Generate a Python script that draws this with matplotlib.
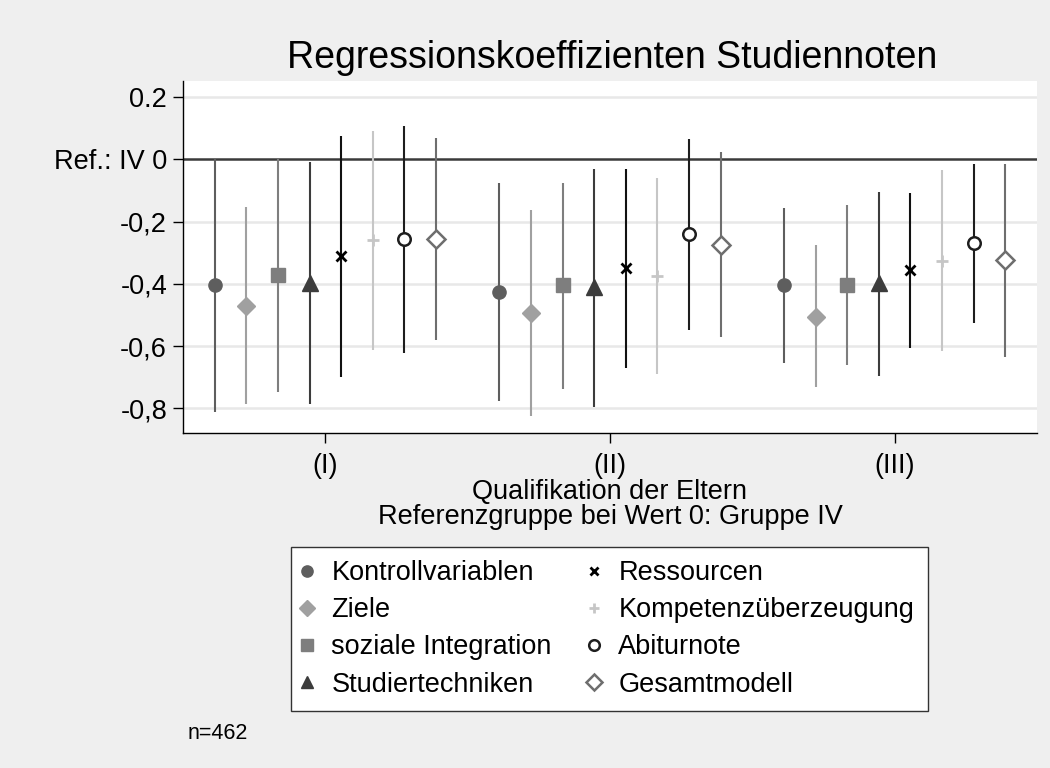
import numpy as np
import matplotlib.pyplot as plt
from matplotlib.lines import Line2D

plt.rcParams['font.family'] = ['Liberation Sans', 'DejaVu Sans']

groups = ["(I)", "(II)", "(III)"]
models = ["Kontrollvariablen", "Ziele", "soziale Integration", "Studiertechniken",
          "Ressourcen", "Kompetenzüberzeugung", "Abiturnote", "Gesamtmodell"]

# point estimates per model, one value per parent group (I, II, III)
coef = {
    "Kontrollvariablen":    [-0.405, -0.425, -0.405],
    "Ziele":                [-0.471, -0.494, -0.505],
    "soziale Integration":  [-0.372, -0.405, -0.405],
    "Studiertechniken":     [-0.398, -0.410, -0.398],
    "Ressourcen":           [-0.310, -0.350, -0.357],
    "Kompetenzüberzeugung": [-0.259, -0.375, -0.326],
    "Abiturnote":           [-0.257, -0.241, -0.270],
    "Gesamtmodell":         [-0.257, -0.275, -0.325],
}
lower = {
    "Kontrollvariablen":    [-0.813, -0.776, -0.655],
    "Ziele":                [-0.787, -0.824, -0.732],
    "soziale Integration":  [-0.748, -0.737, -0.660],
    "Studiertechniken":     [-0.787, -0.794, -0.696],
    "Ressourcen":           [-0.698, -0.671, -0.605],
    "Kompetenzüberzeugung": [-0.612, -0.689, -0.617],
    "Abiturnote":           [-0.621, -0.548, -0.527],
    "Gesamtmodell":         [-0.580, -0.571, -0.634],
}
upper = {
    "Kontrollvariablen":    [0.000, -0.077, -0.157],
    "Ziele":                [-0.155, -0.163, -0.275],
    "soziale Integration":  [0.002, -0.077, -0.147],
    "Studiertechniken":     [-0.010, -0.031, -0.104],
    "Ressourcen":           [0.075, -0.031, -0.109],
    "Kompetenzüberzeugung": [0.091, -0.059, -0.034],
    "Abiturnote":           [0.107, 0.064, -0.015],
    "Gesamtmodell":         [0.067, 0.022, -0.016],
}

yticks = [0.2, 0.0, -0.2, -0.4, -0.6, -0.8]
ytick_labels = ["0.2", "Ref.: IV 0", "-0,2", "-0,4", "-0,6", "-0,8"]

# marker style per model: (marker, colour, size, filled)
styles = {
    "Kontrollvariablen":    ("o", "#5e5e5e", 9.5, True),
    "Ziele":                ("D", "#a0a0a0", 9.5, True),
    "soziale Integration":  ("s", "#7e7e7e", 9.5, True),
    "Studiertechniken":     ("^", "#3c3c3c", 11, True),
    "Ressourcen":           ("x", "#000000", 6.5, True),
    "Kompetenzüberzeugung": ("+", "#c6c6c6", 9, True),
    "Abiturnote":           ("o", "#1e1e1e", 9, False),
    "Gesamtmodell":         ("D", "#6e6e6e", 9, False),
}
line_colors = {
    "Kontrollvariablen": "#5e5e5e", "Ziele": "#a0a0a0", "soziale Integration": "#7e7e7e",
    "Studiertechniken": "#3c3c3c", "Ressourcen": "#111111", "Kompetenzüberzeugung": "#c6c6c6",
    "Abiturnote": "#1e1e1e", "Gesamtmodell": "#6e6e6e",
}

fig = plt.figure(figsize=(10.5, 7.68), dpi=100, facecolor="#efefef")
ax = fig.add_axes([0.1743, 0.4358, 0.8133, 0.4587])
ax.set_facecolor("white")

x = np.arange(1, len(groups) + 1)
step = 1 / 9
for i, m in enumerate(models):
    xi = x + (i - 3.5) * step
    ax.vlines(xi, lower[m], upper[m], color=line_colors[m], lw=1.5, zorder=3)
    mk, col, ms, filled = styles[m]
    if filled:
        ax.plot(xi, coef[m], ls="none", marker=mk, ms=ms, color=col,
                mew=2 if mk in "x+" else 1, zorder=4)
    else:
        ax.plot(xi, coef[m], ls="none", marker=mk, ms=ms, mfc="white",
                mec=col, mew=1.8, zorder=4)

for t in yticks:
    if t != 0:
        ax.axhline(t, color="#e8e8e8", lw=1.8, zorder=1)
ax.axhline(0, color="#3a3a3a", lw=1.8, zorder=2)

ax.set_xlim(0.5, 3.5)
ax.set_ylim(-0.88, 0.251)
ax.set_xticks(x)
ax.set_xticklabels(groups, fontsize=19.5)
ax.set_yticks(yticks)
ax.set_yticklabels(ytick_labels, fontsize=19.5)
ax.tick_params(axis="both", direction="out", length=7.5, width=1, pad=4)
ax.tick_params(axis="x", pad=7)
for s in ["top", "right"]:
    ax.spines[s].set_visible(False)
for s in ["left", "bottom"]:
    ax.spines[s].set_linewidth(1)

ax.set_xlabel("Qualifikation der Eltern\nReferenzgruppe bei Wert 0: Gruppe IV",
              fontsize=19.5, linespacing=0.95, labelpad=0)
fig.text(0.583, 0.924, "Regressionskoeffizienten Studiennoten", fontsize=27,
         ha="center", va="center")

handles = []
for m in models:
    mk, col, ms, filled = styles[m]
    if filled:
        h = Line2D([], [], ls="none", marker=mk, color=col, ms=ms * 0.85,
                   mew=2 if mk in "x+" else 1)
    else:
        h = Line2D([], [], ls="none", marker=mk, mfc="white", mec=col,
                   ms=ms * 0.85, mew=1.8)
    handles.append(h)
leg = fig.legend(handles, models, ncol=2, loc="upper left",
                 bbox_to_anchor=(0.2768, 0.2882), fontsize=19.5, frameon=True,
                 fancybox=False, edgecolor="#333333", framealpha=1,
                 handlelength=0.2, handletextpad=0.8, columnspacing=1.46,
                 labelspacing=0.41, borderpad=0.5, borderaxespad=0)
leg.get_frame().set_linewidth(1)

fig.text(0.179, 0.045, "n=462", fontsize=15.5, va="center")

fig.savefig("out.png", dpi=100, facecolor=fig.get_facecolor())
